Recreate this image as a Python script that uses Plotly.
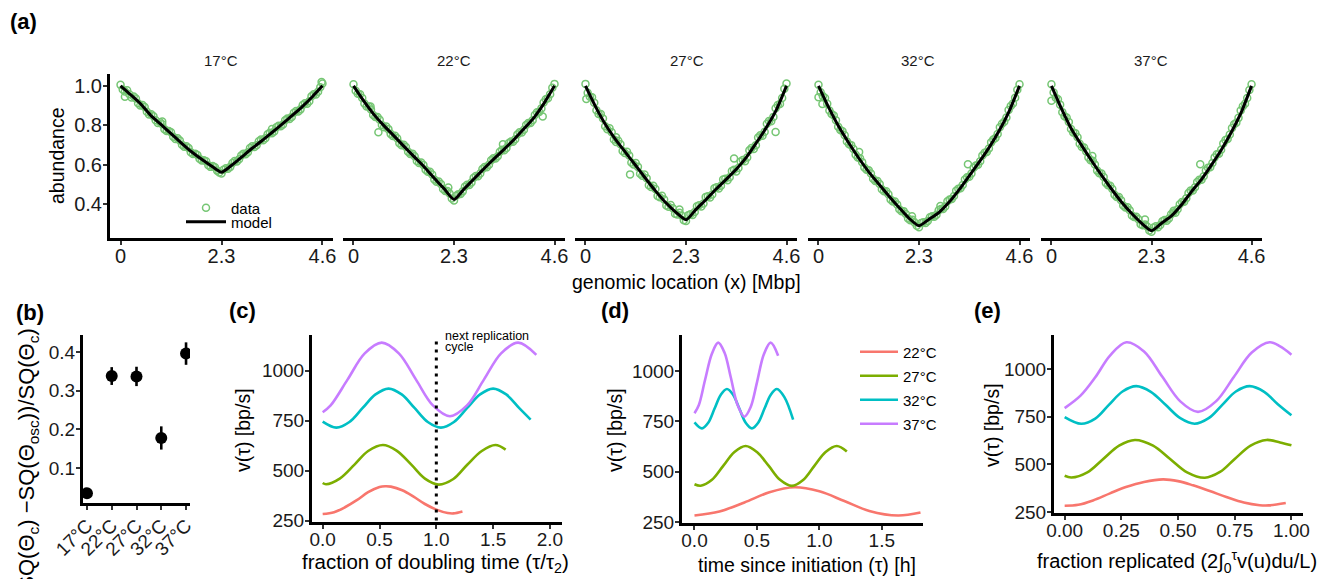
import plotly.graph_objects as go

W, H = 1334, 579

# ---------------- data ----------------
temps_a = ["17°C", "22°C", "27°C", "32°C", "37°C"]
temps_v = ["22°C", "27°C", "32°C", "37°C"]
colors_v = ["#F8766D", "#7CAE00", "#00BFC4", "#C77CFF"]

genome_x = [0.0, 0.1, 0.2, 0.3, 0.4, 0.5, 0.6, 0.7, 0.8, 0.9, 1.0, 1.1, 1.2, 1.3, 1.4, 1.5,
            1.6, 1.7, 1.8, 1.9, 2.0, 2.1, 2.2, 2.3, 2.4, 2.5, 2.6, 2.7, 2.8, 2.9, 3.0, 3.1,
            3.2, 3.3, 3.4, 3.5, 3.6, 3.7, 3.8, 3.9, 4.0, 4.1, 4.2, 4.3, 4.4, 4.5, 4.6]
genome_x_mid = [0.05, 0.15, 0.25, 0.35, 0.45, 0.55, 0.65, 0.75, 0.85, 0.95, 1.05, 1.15,
                1.25, 1.35, 1.45, 1.55, 1.65, 1.75, 1.85, 1.95, 2.05, 2.15, 2.25, 2.35,
                2.45, 2.55, 2.65, 2.75, 2.85, 2.95, 3.05, 3.15, 3.25, 3.35, 3.45, 3.55,
                3.65, 3.75, 3.85, 3.95, 4.05, 4.15, 4.25, 4.35, 4.45, 4.55]

data_17 = [1.005, 0.972, 0.958, 0.946, 0.912, 0.903, 0.869, 0.856, 0.826, 0.816, 0.781, 0.772,
           0.743, 0.735, 0.702, 0.694, 0.664, 0.657, 0.631, 0.624, 0.598, 0.594, 0.571, 0.556,
           0.583, 0.590, 0.620, 0.628, 0.657, 0.664, 0.694, 0.700, 0.728, 0.735, 0.763, 0.769,
           0.798, 0.805, 0.835, 0.843, 0.873, 0.881, 0.912, 0.922, 0.958, 0.970, 1.012]
data_17_b = [0.981, 0.978, 0.941, 0.936, 0.900, 0.893, 0.855, 0.846, 0.812, 0.806, 0.771, 0.765,
             0.731, 0.724, 0.692, 0.686, 0.655, 0.650, 0.622, 0.618, 0.590, 0.588, 0.562, 0.576,
             0.580, 0.610, 0.617, 0.648, 0.654, 0.686, 0.690, 0.720, 0.725, 0.755, 0.760, 0.790,
             0.795, 0.826, 0.832, 0.864, 0.870, 0.903, 0.910, 0.947, 0.956, 0.993]
data_22 = [1.008, 0.960, 0.939, 0.896, 0.880, 0.842, 0.828, 0.791, 0.781, 0.746, 0.735, 0.700,
           0.690, 0.655, 0.644, 0.610, 0.600, 0.565, 0.551, 0.515, 0.503, 0.468, 0.455, 0.420,
           0.452, 0.466, 0.499, 0.511, 0.544, 0.556, 0.589, 0.601, 0.633, 0.644, 0.676, 0.686,
           0.718, 0.730, 0.765, 0.778, 0.812, 0.826, 0.866, 0.886, 0.932, 0.957, 1.010]
data_22_b = [0.975, 0.957, 0.911, 0.895, 0.853, 0.842, 0.802, 0.794, 0.757, 0.748, 0.710, 0.702,
             0.666, 0.657, 0.620, 0.612, 0.575, 0.565, 0.526, 0.516, 0.478, 0.468, 0.430, 0.444,
             0.453, 0.490, 0.498, 0.535, 0.543, 0.579, 0.588, 0.624, 0.632, 0.667, 0.674, 0.709,
             0.717, 0.754, 0.764, 0.802, 0.812, 0.853, 0.868, 0.916, 0.937, 0.990]
data_27 = [1.010, 0.945, 0.915, 0.858, 0.835, 0.780, 0.765, 0.716, 0.705, 0.660, 0.648, 0.602,
           0.590, 0.545, 0.532, 0.488, 0.478, 0.436, 0.425, 0.388, 0.380, 0.349, 0.344, 0.316,
           0.350, 0.362, 0.396, 0.405, 0.441, 0.450, 0.487, 0.495, 0.530, 0.538, 0.575, 0.584,
           0.625, 0.637, 0.686, 0.700, 0.750, 0.768, 0.822, 0.843, 0.903, 0.938, 1.012]
data_27_b = [0.965, 0.942, 0.876, 0.858, 0.795, 0.786, 0.728, 0.722, 0.670, 0.666, 0.612, 0.609,
             0.555, 0.551, 0.497, 0.495, 0.443, 0.444, 0.395, 0.397, 0.353, 0.358, 0.320, 0.345,
             0.346, 0.391, 0.389, 0.437, 0.435, 0.482, 0.480, 0.526, 0.522, 0.569, 0.567, 0.617,
             0.619, 0.674, 0.681, 0.739, 0.747, 0.808, 0.821, 0.887, 0.908, 0.985]
data_32 = [1.006, 0.948, 0.910, 0.857, 0.826, 0.777, 0.750, 0.704, 0.680, 0.637, 0.614, 0.575,
           0.556, 0.519, 0.503, 0.467, 0.451, 0.415, 0.400, 0.366, 0.351, 0.320, 0.309, 0.285,
           0.310, 0.316, 0.340, 0.348, 0.377, 0.390, 0.425, 0.442, 0.479, 0.498, 0.537, 0.557,
           0.597, 0.619, 0.661, 0.683, 0.729, 0.756, 0.808, 0.840, 0.898, 0.940, 1.008]
data_32_b = [0.968, 0.938, 0.875, 0.850, 0.793, 0.770, 0.719, 0.700, 0.651, 0.634, 0.587, 0.573,
             0.530, 0.518, 0.477, 0.466, 0.425, 0.415, 0.376, 0.366, 0.329, 0.322, 0.292, 0.306,
             0.306, 0.335, 0.337, 0.370, 0.377, 0.416, 0.427, 0.469, 0.482, 0.526, 0.540, 0.585,
             0.601, 0.648, 0.665, 0.714, 0.736, 0.791, 0.818, 0.878, 0.911, 0.980]
data_37 = [1.008, 0.940, 0.905, 0.846, 0.817, 0.764, 0.740, 0.691, 0.668, 0.623, 0.602, 0.558,
           0.539, 0.497, 0.478, 0.438, 0.421, 0.384, 0.370, 0.336, 0.325, 0.294, 0.288, 0.262,
           0.289, 0.296, 0.321, 0.329, 0.359, 0.375, 0.412, 0.431, 0.470, 0.487, 0.525, 0.543,
           0.586, 0.609, 0.654, 0.677, 0.726, 0.754, 0.806, 0.838, 0.897, 0.938, 1.008]
data_37_b = [0.966, 0.932, 0.867, 0.840, 0.782, 0.760, 0.707, 0.688, 0.637, 0.621, 0.571, 0.557,
             0.509, 0.495, 0.449, 0.437, 0.394, 0.385, 0.344, 0.338, 0.300, 0.298, 0.268, 0.283,
             0.284, 0.315, 0.317, 0.350, 0.358, 0.401, 0.413, 0.458, 0.470, 0.513, 0.525, 0.571,
             0.588, 0.638, 0.656, 0.708, 0.731, 0.787, 0.813, 0.875, 0.909, 0.979]

outlier_x_17 = [0.1, 0.95, 3.45, 4.58]
outlier_y_17 = [0.945, 0.82, 0.782, 1.02]
outlier_x_22 = [0.57, 3.42, 4.33, 2.17, 0.39]
outlier_y_22 = [0.765, 0.705, 0.845, 0.485, 0.895]
outlier_x_27 = [0.02, 1.02, 3.40, 4.35, 2.15, 0.70]
outlier_y_27 = [0.934, 0.552, 0.632, 0.767, 0.374, 0.740]
outlier_x_32 = [0.0, 0.09, 0.93, 3.42, 2.14, 2.79]
outlier_y_32 = [0.942, 0.908, 0.665, 0.603, 0.340, 0.392]
outlier_x_37 = [0.0, 0.94, 3.42, 2.15, 2.81]
outlier_y_37 = [0.925, 0.645, 0.603, 0.323, 0.368]

model_x = [0.0, 0.23, 0.46, 0.69, 0.92, 1.15, 1.38, 1.61, 1.84, 2.07, 2.3,
           2.53, 2.76, 2.99, 3.22, 3.45, 3.68, 3.91, 4.14, 4.37, 4.6]
model_17 = [1.000, 0.955, 0.908, 0.850, 0.805, 0.758, 0.712, 0.668, 0.630, 0.595, 0.563,
            0.598, 0.640, 0.683, 0.722, 0.764, 0.806, 0.850, 0.895, 0.945, 1.000]
model_22 = [1.000, 0.925, 0.857, 0.800, 0.748, 0.695, 0.643, 0.592, 0.535, 0.480, 0.425,
            0.478, 0.530, 0.582, 0.632, 0.680, 0.730, 0.785, 0.842, 0.915, 1.000]
model_27 = [1.000, 0.895, 0.803, 0.728, 0.662, 0.597, 0.530, 0.466, 0.408, 0.360, 0.322,
            0.375, 0.425, 0.478, 0.527, 0.578, 0.638, 0.712, 0.790, 0.880, 1.000]
model_32 = [1.000, 0.892, 0.795, 0.712, 0.635, 0.565, 0.503, 0.443, 0.385, 0.330, 0.292,
            0.325, 0.360, 0.412, 0.475, 0.545, 0.615, 0.690, 0.775, 0.875, 1.000]
model_37 = [1.000, 0.885, 0.782, 0.700, 0.622, 0.548, 0.478, 0.412, 0.355, 0.305, 0.267,
            0.305, 0.342, 0.398, 0.465, 0.527, 0.600, 0.678, 0.768, 0.870, 1.000]

data_a = [data_17, data_22, data_27, data_32, data_37]
data_a_b = [data_17_b, data_22_b, data_27_b, data_32_b, data_37_b]
outx_a = [outlier_x_17, outlier_x_22, outlier_x_27, outlier_x_32, outlier_x_37]
outy_a = [outlier_y_17, outlier_y_22, outlier_y_27, outlier_y_32, outlier_y_37]
model_a = [model_17, model_22, model_27, model_32, model_37]

# panel (b)
b_temps = ["17°C", "22°C", "27°C", "32°C", "37°C"]
b_value = [0.035, 0.338, 0.337, 0.178, 0.396]
b_err = [0.004, 0.023, 0.025, 0.030, 0.029]

# panel (c): velocity vs fraction of doubling time
c_x_22 = [0.0, 0.1, 0.2, 0.3, 0.4, 0.5, 0.55, 0.6, 0.7, 0.8, 0.9, 1.0, 1.1, 1.15, 1.23]
c_v_22 = [283, 292, 318, 352, 392, 418, 422, 420, 402, 370, 333, 305, 288, 286, 296]
c_x_27 = [0.0, 0.03, 0.15, 0.28, 0.4, 0.53, 0.65, 0.78, 0.9, 1.02, 1.15, 1.27, 1.4, 1.52, 1.61]
c_v_27 = [438, 432, 460, 530, 598, 628, 600, 530, 460, 430, 458, 528, 598, 628, 605]
c_x_32 = [0.0, 0.12, 0.235, 0.35, 0.465, 0.58, 0.695, 0.81, 0.925, 1.04, 1.155, 1.27,
          1.385, 1.5, 1.615, 1.73, 1.83]
c_v_32 = [745, 715, 743, 812, 881, 910, 881, 812, 743, 715, 743, 812, 881, 910, 881, 812, 755]
c_x_37 = [0.0, 0.07, 0.22, 0.37, 0.52, 0.67, 0.82, 0.97, 1.12, 1.27, 1.42, 1.57, 1.72, 1.88]
c_v_37 = [792, 826, 956, 1086, 1140, 1086, 956, 826, 772, 826, 956, 1086, 1140, 1079]
next_cycle_at = 1.0
next_cycle_span = [250, 1150]

# panel (d): velocity vs time since initiation [h]
d_x_22 = [0.0, 0.2, 0.4, 0.6, 0.8, 1.0, 1.2, 1.4, 1.63, 1.81]
d_v_22 = [283, 303, 348, 398, 423, 403, 355, 306, 283, 298]
d_x_27 = [0.0, 0.05, 0.14, 0.23, 0.32, 0.41, 0.5, 0.595, 0.685, 0.78, 0.87, 0.96, 1.05, 1.14, 1.22]
d_v_27 = [438, 431, 460, 529, 598, 628, 598, 529, 460, 430, 459, 529, 598, 628, 600]
d_x_32 = [0.0, 0.06, 0.11, 0.16, 0.21, 0.26, 0.31, 0.36, 0.41, 0.46, 0.51, 0.56, 0.61, 0.66, 0.72, 0.79]
d_v_32 = [745, 715, 743, 812, 881, 910, 881, 812, 743, 715, 743, 812, 881, 910, 870, 758]
d_x_37 = [0.0, 0.035, 0.085, 0.14, 0.19, 0.24, 0.29, 0.345, 0.4, 0.45, 0.5, 0.555, 0.61, 0.67]
d_v_37 = [790, 831, 956, 1086, 1140, 1091, 970, 831, 773, 821, 942, 1081, 1140, 1075]

# panel (e): velocity vs fraction replicated
e_x_22 = [0.0, 0.06, 0.125, 0.2, 0.27, 0.35, 0.434, 0.5, 0.566, 0.64, 0.713, 0.79, 0.86, 0.9, 0.975]
e_v_22 = [283, 288, 311, 348, 381, 408, 421, 412, 390, 360, 329, 300, 286, 285, 297]
e_x_27 = [0.0, 0.03, 0.1, 0.17, 0.24, 0.31, 0.39, 0.465, 0.54, 0.618, 0.685, 0.75, 0.82, 0.89, 0.95, 1.0]
e_v_27 = [440, 431, 458, 528, 598, 628, 598, 528, 458, 430, 460, 528, 598, 628, 615, 600]
e_x_32 = [0.0, 0.073, 0.135, 0.195, 0.255, 0.316, 0.38, 0.445, 0.51, 0.573, 0.635, 0.695,
          0.755, 0.816, 0.88, 0.94, 1.0]
e_v_32 = [748, 713, 740, 812, 882, 910, 880, 812, 742, 713, 742, 812, 882, 910, 880, 815, 757]
e_x_37 = [0.0, 0.07, 0.135, 0.2, 0.272, 0.35, 0.43, 0.51, 0.588, 0.667, 0.746, 0.825, 0.904, 0.95, 1.0]
e_v_37 = [795, 860, 956, 1070, 1140, 1092, 960, 830, 775, 830, 958, 1086, 1140, 1118, 1075]

c_x = [c_x_22, c_x_27, c_x_32, c_x_37]
c_v = [c_v_22, c_v_27, c_v_32, c_v_37]
d_x = [d_x_22, d_x_27, d_x_32, d_x_37]
d_v = [d_v_22, d_v_27, d_v_32, d_v_37]
e_x = [e_x_22, e_x_27, e_x_32, e_x_37]
e_v = [e_v_22, e_v_27, e_v_32, e_v_37]

# ---------------- layout helpers ----------------
FONT = "Liberation Sans, Arial, Helvetica, sans-serif"
GREEN = "rgb(118,198,116)"


def hx(px):
    return px / W


def vy(py):
    return 1 - py / H


fig = go.Figure()

a_panels = [(110, 333), (343, 565), (575, 797), (808, 1030), (1041, 1262)]
a_top, a_bot = 74, 238
mk = dict(symbol="circle-open", size=7, color=GREEN, line=dict(width=1.5, color=GREEN))

for i in range(5):
    xa = "x" if i == 0 else f"x{i+1}"
    ya = "y" if i == 0 else f"y{i+1}"
    fig.add_trace(go.Scatter(
        x=genome_x, y=data_a[i], mode="markers", xaxis=xa, yaxis=ya, marker=mk,
        name="data", showlegend=(i == 0), legend="legend"))
    fig.add_trace(go.Scatter(
        x=genome_x_mid, y=data_a_b[i], mode="markers", xaxis=xa, yaxis=ya, marker=mk,
        showlegend=False))
    fig.add_trace(go.Scatter(
        x=outx_a[i], y=outy_a[i], mode="markers", xaxis=xa, yaxis=ya, marker=mk,
        showlegend=False))
    fig.add_trace(go.Scatter(
        x=model_x, y=model_a[i], mode="lines", xaxis=xa, yaxis=ya,
        line=dict(color="black", width=3, shape="spline", smoothing=0.6),
        name="model", showlegend=(i == 0), legend="legend3"))

# panel (b)
fig.add_trace(go.Scatter(
    x=b_temps, y=b_value, mode="markers", xaxis="x6", yaxis="y6",
    marker=dict(size=12, color="black"),
    error_y=dict(type="data", array=b_err, arrayminus=b_err, thickness=2.6, width=0, color="black"),
    showlegend=False))

# panels (c), (d), (e)
for k in range(4):
    fig.add_trace(go.Scatter(x=c_x[k], y=c_v[k], mode="lines", xaxis="x7", yaxis="y7",
                             line=dict(color=colors_v[k], width=2.6, shape="spline"),
                             showlegend=False))
    fig.add_trace(go.Scatter(x=d_x[k], y=d_v[k], mode="lines", xaxis="x8", yaxis="y8",
                             line=dict(color=colors_v[k], width=2.6, shape="spline"),
                             name=temps_v[k], showlegend=True, legend=f"legend{4+k}"))
    fig.add_trace(go.Scatter(x=e_x[k], y=e_v[k], mode="lines", xaxis="x9", yaxis="y9",
                             line=dict(color=colors_v[k], width=2.6, shape="spline"),
                             showlegend=False))

# dotted "next replication cycle" line in (c)
fig.add_shape(type="line", xref="x7", yref="y7", x0=next_cycle_at, x1=next_cycle_at,
              y0=next_cycle_span[0], y1=next_cycle_span[1],
              line=dict(color="black", width=3, dash="3px,5px"))

axis_common = dict(showline=True, linewidth=3, linecolor="black", ticks="outside",
                   ticklen=4, tickwidth=1.5, tickcolor="#333333", showgrid=False,
                   zeroline=False, mirror=False, fixedrange=True, automargin=False)
xstand = dict(ticklabelstandoff=-6)
ystand = dict(ticklabelstandoff=-3)

layout = dict(
    template="none",
    width=W, height=H, margin=dict(l=0, r=0, t=0, b=0, autoexpand=False),
    paper_bgcolor="white", plot_bgcolor="white",
    font=dict(family=FONT, color="black"),
)

tfa = dict(size=20, color="#1a1a1a")
for i, (l, r) in enumerate(a_panels):
    xk = "xaxis" if i == 0 else f"xaxis{i+1}"
    yk = "yaxis" if i == 0 else f"yaxis{i+1}"
    ya = "y" if i == 0 else f"y{i+1}"
    xa = "x" if i == 0 else f"x{i+1}"
    layout[xk] = dict(axis_common, **xstand, domain=[hx(l), hx(r)], anchor=ya, range=[-0.24, 4.84],
                      tickvals=[0, 2.3, 4.6], ticktext=["0", "2.3", "4.6"], tickfont=tfa)
    if i == 0:
        layout[yk] = dict(axis_common, **ystand, domain=[vy(a_bot), vy(a_top)], anchor=xa,
                          range=[0.23, 1.06], tickvals=[0.4, 0.6, 0.8, 1.0],
                          ticktext=["0.4", "0.6", "0.8", "1.0"], tickfont=tfa)
    else:
        layout[yk] = dict(domain=[vy(a_bot), vy(a_top)], anchor=xa, range=[0.23, 1.06],
                          showline=False, showticklabels=False, ticks="", showgrid=False,
                          zeroline=False, fixedrange=True, automargin=False)

tf = dict(size=19, color="#1a1a1a")
layout["xaxis6"] = dict(axis_common, ticklabelstandoff=-3, domain=[hx(83), hx(190)], anchor="y6",
                        type="category", categoryorder="array", categoryarray=b_temps,
                        range=[-0.16, 4.16], tickangle=-45, tickfont=tf)
layout["yaxis6"] = dict(axis_common, **ystand, domain=[vy(503), vy(335)], anchor="x6",
                        range=[0.01, 0.444], tickvals=[0.1, 0.2, 0.3, 0.4], tickfont=tf)
layout["xaxis7"] = dict(axis_common, **xstand, domain=[hx(312), hx(562)], anchor="y7",
                        range=[-0.094, 2.106], tickvals=[0, 0.5, 1.0, 1.5, 2.0],
                        ticktext=["0.0", "0.5", "1.0", "1.5", "2.0"], tickfont=tf)
layout["yaxis7"] = dict(axis_common, **ystand, domain=[vy(522), vy(335)], anchor="x7",
                        range=[243, 1178], tickvals=[250, 500, 750, 1000], tickfont=tf)
layout["xaxis8"] = dict(axis_common, **xstand, domain=[hx(682), hx(923)], anchor="y8",
                        range=[-0.1, 1.83], tickvals=[0, 0.5, 1.0, 1.5],
                        ticktext=["0.0", "0.5", "1.0", "1.5"], tickfont=tf)
layout["yaxis8"] = dict(axis_common, **ystand, domain=[vy(523), vy(335)], anchor="x8",
                        range=[246, 1178], tickvals=[250, 500, 750, 1000], tickfont=tf)
layout["xaxis9"] = dict(axis_common, **xstand, domain=[hx(1054), hx(1303)], anchor="y9",
                        range=[-0.047, 1.051], tickvals=[0, 0.25, 0.5, 0.75, 1.0],
                        ticktext=["0.00", "0.25", "0.50", "0.75", "1.00"], tickfont=tf)
layout["yaxis9"] = dict(axis_common, **ystand, domain=[vy(513), vy(335)], anchor="x9",
                        range=[245, 1178], tickvals=[250, 500, 750, 1000], tickfont=tf)

leg_common = dict(bgcolor="rgba(0,0,0,0)", borderwidth=0, xanchor="left", yanchor="middle",
                  font=dict(size=15, family=FONT, color="black"))
layout["legend"] = dict(leg_common, x=hx(181), y=vy(208), itemwidth=40)
layout["legend3"] = dict(leg_common, x=hx(181), y=vy(222), itemwidth=40)
for k, py in enumerate([352, 376, 400, 424]):
    layout[f"legend{4+k}"] = dict(leg_common, x=hx(855), y=vy(py), itemwidth=38)

fig.update_layout(**layout)

ann = []


def text(px, py, s, size, bold=False, angle=0, xanchor="center", yanchor="middle", color="black"):
    ann.append(dict(x=hx(px), y=vy(py), xref="paper", yref="paper", text=(f"<b>{s}</b>" if bold else s),
                    showarrow=False, textangle=angle, xanchor=xanchor, yanchor=yanchor,
                    font=dict(size=size, family=FONT, color=color)))


# panel labels
text(24, 22, "(a)", 22, bold=True)
text(30, 312, "(b)", 22, bold=True)
text(242, 310, "(c)", 22, bold=True)
text(615, 310, "(d)", 22, bold=True)
text(987, 310, "(e)", 22, bold=True)

# facet titles (a)
for t, cx in zip(temps_a, [221, 454, 687, 918, 1151]):
    text(cx, 60, t, 15, color="#1a1a1a")

# axis titles
text(57, 156, "abundance", 19.5, angle=-90)
text(687, 282, "genomic location (x) [Mbp]", 19.5)
text(28, 326, "(SQ(Θ<sub>c</sub>) −SQ(Θ<sub>osc</sub>))/SQ(Θ<sub>c</sub>)", 22, angle=-90,
     yanchor="top")
text(243, 430, "v(τ) [bp/s]", 19.5, angle=-90)
text(435, 563, "fraction of doubling time (τ/τ<sub>2</sub>)", 20.5)
text(615, 430, "v(τ) [bp/s]", 19.5, angle=-90)
text(807, 565, "time since initiation (τ) [h]", 19.5)
text(992, 425, "v(τ) [bp/s]", 19.5, angle=-90)
text(1177, 561, "fraction replicated (2∫<sub>0</sub><sup>τ</sup>v(u)du/L)", 20)

# next replication cycle note
text(443, 336, "next replication", 12.5, xanchor="left")
text(443, 347, "cycle", 12.5, xanchor="left")

fig.update_layout(annotations=ann)
fig.write_html("out.html", config={"displayModeBar": False},
               post_script="document.body.style.margin='0px';")
